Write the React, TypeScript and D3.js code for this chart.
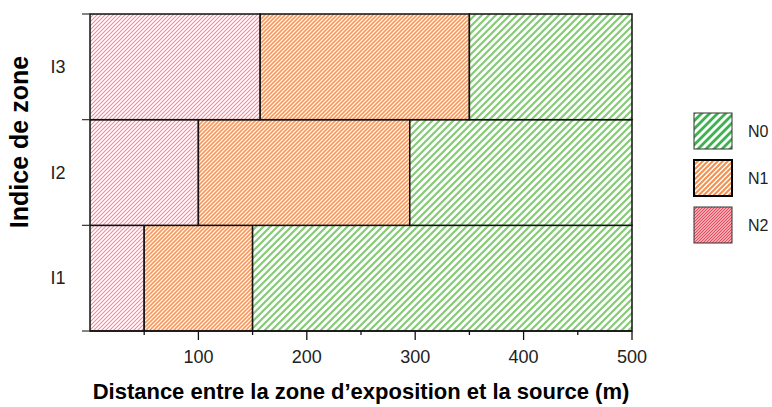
import React from 'react';
import * as d3 from 'd3';

// zones, bottom to top
const zones = ['I1', 'I2', 'I3'];
const levels = ['N0', 'N1', 'N2'];
// distance (m) where each level ends, per zone
const n2End = [50, 100, 157];
const n1End = [150, 295, 350];
const maxDistance = 500;
const xTicks = [100, 200, 300, 400, 500];
const xMinorTicks = [50, 150, 250, 350, 450];

const width = 772;
const height = 407;
const pad = { left: 90, right: 140, top: 14, bottom: 76 };

const fills: Record<string, string> = { N0: 'url(#hN0)', N1: 'url(#hN1)', N2: 'url(#hN2)' };
const legendFills: Record<string, string> = { N0: 'url(#lN0)', N1: 'url(#lN1)', N2: 'url(#lN2)' };

// "/" hatch tile, w = horizontal spacing
const Hatch = (p: { id: string; w: number; color: string; sw: number }) => {
  const w = p.w;
  return (
    <pattern id={p.id} patternUnits="userSpaceOnUse" width={w} height={w}>
      <rect width={w} height={w} fill="#fff" />
      <path
        d={`M0,${w} L${w},0 M-1,1 L1,-1 M${w - 1},${w + 1} L${w + 1},${w - 1}`}
        stroke={p.color}
        strokeWidth={p.sw}
        strokeLinecap="square"
      />
    </pattern>
  );
};

export default function App() {
  const x = d3.scaleLinear().domain([0, maxDistance]).range([pad.left, width - pad.right]);
  const y = d3
    .scaleBand<string>()
    .domain([...zones].reverse())
    .range([pad.top, height - pad.bottom])
    .padding(0);

  const segs: { zone: string; level: string; x0: number; x1: number }[] = [];
  zones.forEach((z, i) => {
    segs.push({ zone: z, level: 'N2', x0: 0, x1: n2End[i] });
    segs.push({ zone: z, level: 'N1', x0: n2End[i], x1: n1End[i] });
    segs.push({ zone: z, level: 'N0', x0: n1End[i], x1: maxDistance });
  });

  const yBounds = [pad.top, ...zones.map((z) => y(z)! + y.bandwidth())];
  const axisY = height - pad.bottom;
  const font = '"Liberation Sans", Arial, sans-serif';

  return (
    <svg
      width={width}
      height={height}
      style={{ position: 'absolute', left: 0, top: 0, fontFamily: font }}
    >
      <defs>
        <Hatch id="hN0" w={7} color="#86cc76" sw={2.2} />
        <Hatch id="hN1" w={4} color="#f4995c" sw={1.6} />
        <Hatch id="hN2" w={4} color="#f4899b" sw={1.1} />
        <Hatch id="lN0" w={8} color="#3cb24d" sw={2.8} />
        <Hatch id="lN1" w={5} color="#f58f4c" sw={2} />
        <Hatch id="lN2" w={3} color="#e9495a" sw={1.4} />
      </defs>

      {segs.map((s, i) => (
        <rect
          key={i}
          x={x(s.x0)}
          y={y(s.zone)}
          width={x(s.x1) - x(s.x0)}
          height={y.bandwidth()}
          fill={fills[s.level]}
          stroke="#111"
          strokeWidth={1.5}
        />
      ))}

      {/* y ticks at band edges */}
      {yBounds.map((b, i) => (
        <line key={i} x1={pad.left - 8} x2={pad.left} y1={b} y2={b} stroke="#333" strokeWidth={1.2} />
      ))}
      {zones.map((z) => (
        <text key={z} x={58} y={y(z)! + y.bandwidth() / 2} dy="0.35em" textAnchor="middle" fontSize={18} fill="#222">
          {z}
        </text>
      ))}

      {/* x axis */}
      <line x1={pad.left} x2={x(maxDistance)} y1={axisY} y2={axisY} stroke="#111" strokeWidth={1.5} />
      {xTicks.map((t) => (
        <g key={t}>
          <line x1={x(t)} x2={x(t)} y1={axisY} y2={axisY + 9} stroke="#111" strokeWidth={1.3} />
          <text x={x(t)} y={axisY + 32} textAnchor="middle" fontSize={18} fill="#222">
            {t}
          </text>
        </g>
      ))}
      {xMinorTicks.map((t) => (
        <line key={t} x1={x(t)} x2={x(t)} y1={axisY} y2={axisY + 4} stroke="#111" strokeWidth={1.3} />
      ))}

      <text x={(pad.left + x(maxDistance)) / 2} y={399} textAnchor="middle" fontSize={22} fontWeight="bold" fill="#000">
        Distance entre la zone d’exposition et la source (m)
      </text>
      <text
        transform={`translate(28,${142}) rotate(-90)`}
        textAnchor="middle"
        fontSize={25}
        fontWeight="bold"
        fill="#000"
      >
        Indice de zone
      </text>

      {/* legend */}
      {levels.map((l, i) => (
        <g key={l} transform={`translate(694,${113 + i * 47})`}>
          <rect
            width={38}
            height={36}
            fill={legendFills[l]}
            stroke={l === 'N1' ? '#000' : '#333'}
            strokeWidth={l === 'N1' ? 2 : 1}
          />
          <text x={54} y={18} dy="0.35em" fontSize={16} fill="#222">
            {l}
          </text>
        </g>
      ))}
    </svg>
  );
}
